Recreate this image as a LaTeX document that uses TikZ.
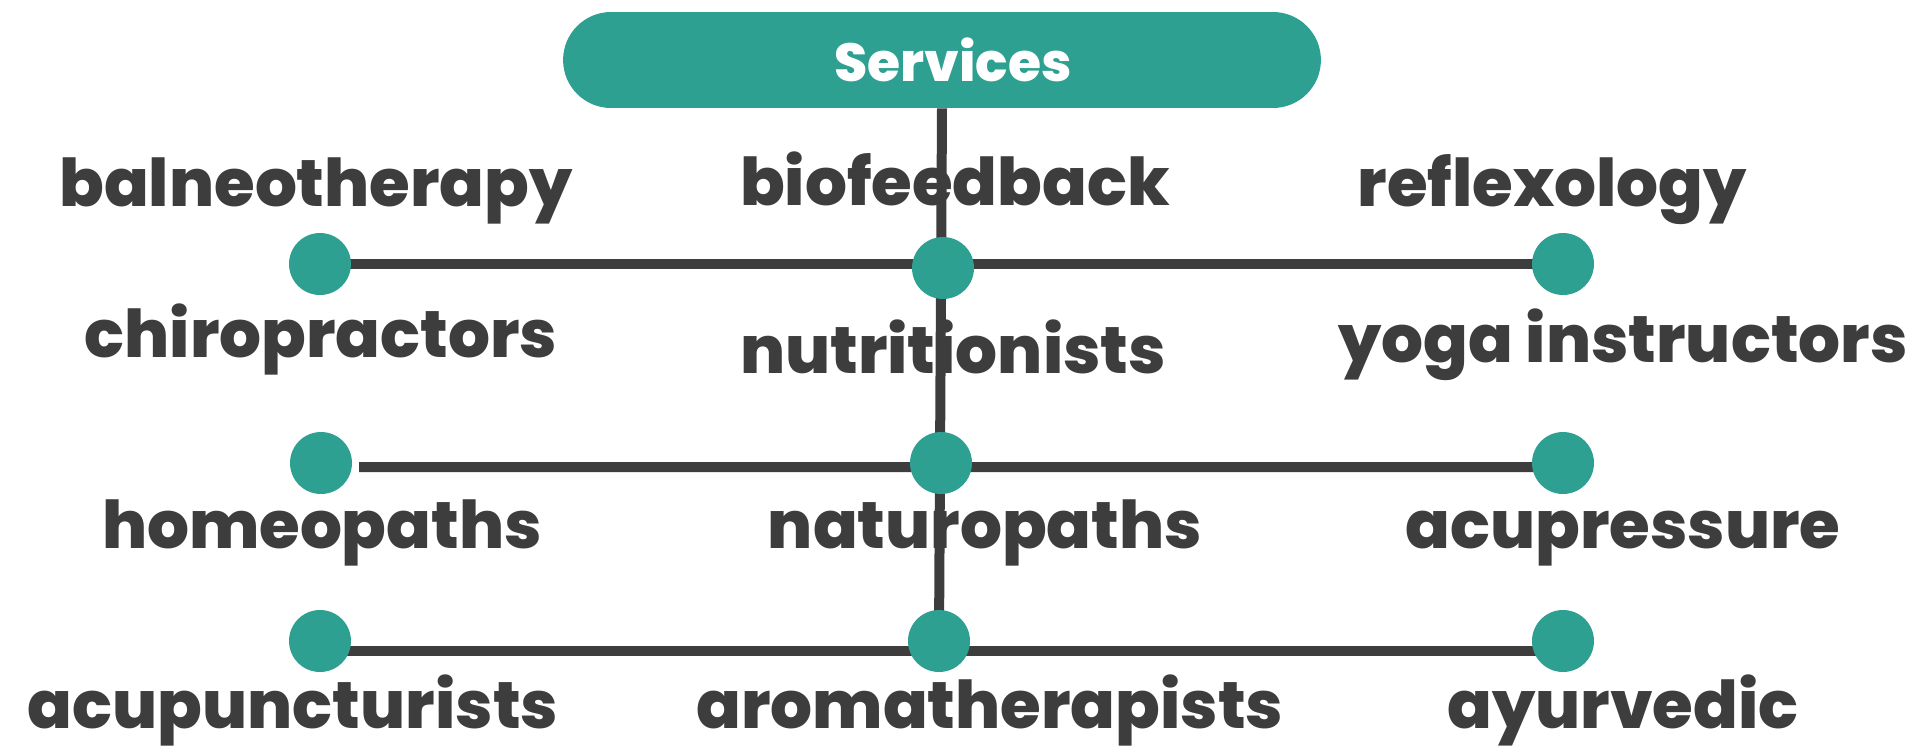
\documentclass[tikz,border=0pt]{standalone}
\usepackage{fontspec}
\setmainfont{Poppins}[BoldFont={Poppins ExtraBold}]
\definecolor{srvteal}{HTML}{2DA091}
\definecolor{ink}{HTML}{3D3D3D}

\begin{document}
\begin{tikzpicture}[x=0.02cm, y=-0.02cm,
  lbl/.style={anchor=base, inner sep=0pt, text=ink, font=\fontsize{37.5}{38}\selectfont\bfseries},
  link/.style={draw=ink, line width=0.2cm}]

\useasboundingbox (0,0) rectangle (1925,751);

\node[fill=srvteal, rounded corners=0.96cm, minimum width=15.16cm, minimum height=1.92cm,
      text=white, font=\fontsize{30.5}{30}\selectfont\bfseries] (srv) at (942,60) {\hspace{0.44cm}Services};

\coordinate (l1) at (320,264);
\coordinate (m1) at (943,268);
\coordinate (r1) at (1563,264);
\coordinate (l2) at (321,463);
\coordinate (m2) at (941,463);
\coordinate (r2) at (1563,463);
\coordinate (l3) at (320,641);
\coordinate (m3) at (939,641);
\coordinate (r3) at (1563,641);

% stem and rows
\draw[link] (srv.south) -- (m3);
\draw[link] (l1) -- (r1);
\draw[link] ([shift={(38,4)}]l2) -- ([yshift=-0.08cm]r2);
\draw[link] ([yshift=-0.2cm]l3) -- ([yshift=-0.2cm]r3);

\foreach \d in {l1,m1,r1,l2,m2,r2,l3,m3,r3}
   {
	\fill[srvteal] (\d) circle[radius=0.62cm];
   };

\node[lbl] (balneo) at (316,206) {balneotherapy};
\node[lbl] (biofeed) at (955,205) {biofeedback};
\node[lbl] (reflex) at (1552,206) {reflexology};
\node[lbl] (chiro) at (321,357) {chiropractors};
\node[lbl] (nutri) at (953,373) {nutritionists};
\node[lbl] (yoga) at (1623,362) {yoga instructors};
\node[lbl] (homeo) at (322,548) {homeopaths};
\node[lbl] (naturo) at (985,548) {naturopaths};
\node[lbl] (acupress) at (1623,548) {acupressure};
\node[lbl] (acupunct) at (293,728) {acupuncturists};
\node[lbl] (aroma) at (990,728) {aromatherapists};
\node[lbl] (ayur) at (1623,728) {ayurvedic};
\end{tikzpicture}
\end{document}
